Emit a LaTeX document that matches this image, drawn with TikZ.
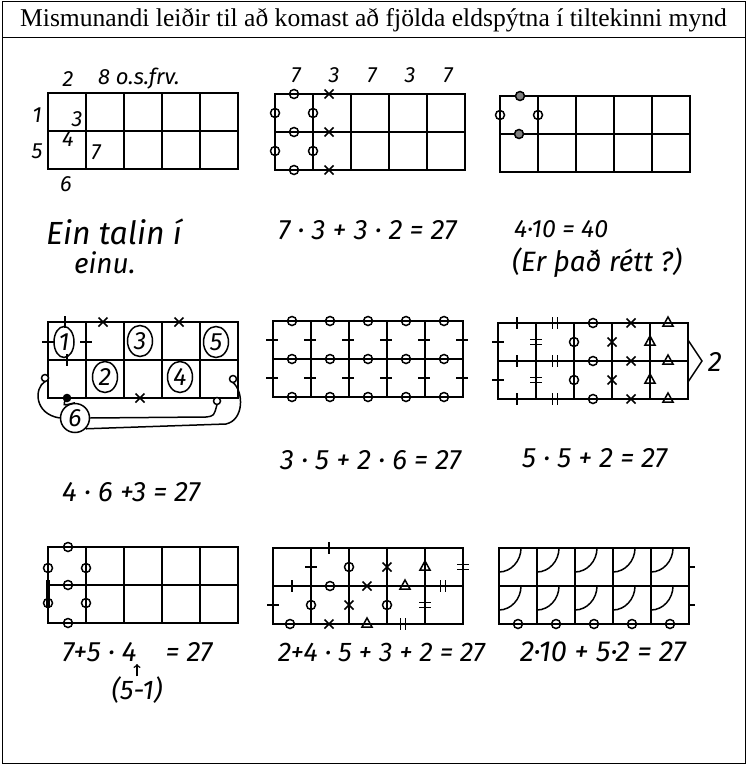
\documentclass[tikz,border=0pt]{standalone}
\usepackage{fontspec}
\setmainfont{Liberation Serif}
\newfontfamily\hand{Fira Sans}
\usetikzlibrary{shapes.geometric}
\tikzset{
  gridln/.style={line width=1.8pt},
  mk/.style={line width=1.5pt},
  hw/.style={font=\hand\itshape\fontsize{28}{30}\selectfont,inner sep=0pt,anchor=west},
  hwsmall/.style={font=\hand\itshape\fontsize{22}{23}\selectfont,inner sep=0pt},
  cnum/.style={ellipse,draw,line width=1.5pt,inner sep=0pt,minimum width=25,minimum height=31,
    font=\hand\itshape\fontsize{25}{25}\selectfont},
  grd/.pic={\draw[gridln] (0,0) rectangle (190,76) (0,38)--(190,38);
    \foreach \i in {38,76,114,152} \draw[gridln] (\i,0)--(\i,76);},
  hd/.pic={\draw[mk] (0,0) circle (4.5pt);},
  hdf/.pic={\draw[mk,fill=gray] (0,0) circle (4.5pt);},
  tkh/.pic={\draw[mk] (0,-6)--(0,6);},
  tkv/.pic={\draw[mk] (-6,0)--(6,0);},
  dtkh/.pic={\draw[mk] (-2.5,-6)--(-2.5,6) (2.5,-6)--(2.5,6);},
  dtkv/.pic={\draw[mk] (-6,-2.5)--(6,-2.5) (-6,2.5)--(6,2.5);},
  xx/.pic={\draw[mk] (-4.5,-4.5)--(4.5,4.5) (-4.5,4.5)--(4.5,-4.5);},
  tri/.pic={\draw[mk] (-5,3)--(0,-6)--(5,3)--cycle;},
}
\begin{document}
\begin{tikzpicture}[x=1pt,y=-1pt]
\useasboundingbox (0,0) rectangle (747,765);
\draw[line width=1pt] (2,1.5) rectangle (745,763.5);
\draw[line width=1pt] (2,38) -- (745,38);
\node[font=\fontsize{25.6}{28}\selectfont,inner sep=0pt] (title) at (373.5,20) {Mismunandi leiðir til að komast að fjölda eldspýtna í tiltekinni mynd};

% efri röð
\begin{scope}[shift={(48,93)}]
\pic {grd};
\end{scope}
\node[hwsmall] (l2) at (68,79) {2};
\node[hwsmall,anchor=west] (l8) at (98,79) {8 o.s.frv.};
\node[hwsmall] (l1) at (37,115) {1};
\node[hwsmall] (l3) at (77,119) {3};
\node[hwsmall] (l4) at (68,139) {4};
\node[hwsmall] (l5) at (37,151) {5};
\node[hwsmall] (l7) at (96,152) {7};
\node[hwsmall] (l6) at (66,184) {6};

\begin{scope}[shift={(275,94)}]
\pic {grd};
\foreach \y in {0,38,76} {\pic at (19,\y) {hd}; \pic at (54,\y) {xx};}
\foreach \x in {0,38} {\pic at (\x,19) {hd}; \pic at (\x,57) {hd};}
\foreach \t [count=\i from 0] in {7,3,7,3,7}
  \node[hwsmall] (t\i) at (21+38*\i,-19) {\t};
\end{scope}

\begin{scope}[shift={(500,96)}]
\pic {grd};
\pic at (20,0) {hdf}; \pic at (19,38) {hdf};
\pic at (0,19) {hd}; \pic at (38,19) {hd};
\end{scope}

\node[hw,font=\hand\itshape\fontsize{32}{34}\selectfont] (e1a) at (46,232) {Ein talin í};
\node[hw] (e1b) at (74,263) {einu.};
\node[hw] (e2) at (278,230) {7 · 3 + 3 · 2 = 27};
\node[hw,font=\hand\itshape\fontsize{25}{26}\selectfont] (e3a) at (514,229) {4·10 = 40};
\node[hw] (e3b) at (512,263) {(Er það rétt ?)};

% miðröð
\begin{scope}[shift={(48,322)}]
\pic {grd};
\pic at (17,0) {tkh}; \pic at (0,20) {tkv}; \pic at (38,20) {tkv}; \pic at (19,38) {tkh};
\pic at (55,0) {xx}; \pic at (131,0) {xx}; \pic at (92,76) {xx};
\node[cnum,minimum width=20] (c1) at (16,20) {1};
\node[cnum] (c3) at (92,19) {3};
\node[cnum] (c5) at (168,20) {5};
\node[cnum] (c2) at (57,55) {2};
\node[cnum] (c4) at (132,55) {4};
\node[cnum,minimum width=29,minimum height=29] (c6) at (27,96) {6};
\draw[mk,fill=black] (19,76) circle (3.5pt);
\coordinate (pa) at (19,76);
\coordinate (pb) at (-3,56);
\coordinate (pc) at (169,79);
\coordinate (pd) at (185,57);
\draw[mk,fill=white] (pb) circle (3.5pt) (pc) circle (3.5pt) (pd) circle (3.5pt);
\draw[mk] (c6.west) .. controls (-14,92) and (-14,66) .. ([yshift=-3.5pt]pb);
\draw[mk] (pa) .. controls (14,84) .. (c6.north);
\draw[mk] (c6.east) -- (158,95) .. controls (166,94) .. ([yshift=-3.5pt]pc);
\draw[mk] (c6.south east) -- (178,102) .. controls (196,98) and (196,70) .. ([yshift=-3.5pt]pd);
\end{scope}

\begin{scope}[shift={(273,321)}]
\pic {grd};
\foreach \i in {0,...,4} \foreach \y in {0,38,76} \pic at (19+38*\i,\y) {hd};
\foreach \j in {0,...,5} {\pic at (38*\j-1,19) {tkv}; \pic at (38*\j-1,57) {tkv};}
\end{scope}

\begin{scope}[shift={(498,323)}]
\pic {grd};
\foreach \y in {0,38,76} {\pic at (19,\y) {tkh}; \pic at (57,\y) {dtkh};
  \pic at (95,\y) {hd}; \pic at (133,\y) {xx}; \pic at (170,\y) {tri};}
\foreach \y in {19,57} {\pic at (0,\y) {tkv}; \pic at (38,\y) {dtkv};
  \pic at (76,\y) {hd}; \pic at (114,\y) {xx}; \pic at (152,\y) {tri};}
\coordinate (br1) at (190,17);
\coordinate (br2) at (190,59);
\node[hwsmall,font=\hand\itshape\fontsize{28}{28}\selectfont] (tv) at (217,39) {2};
\draw[mk] (br1) -- (204,38) -- (br2);
\end{scope}

\node[hw] (e4) at (280,460) {3 · 5 + 2 · 6 = 27};
\node[hw] (e5) at (522,458) {5 · 5 + 2 = 27};
\node[hw] (e6) at (62,492) {4 · 6 +3 = 27};

% neðsta röð
\begin{scope}[shift={(48,547)}]
\pic {grd};
\draw[line width=3.8pt] (0,33) -- (0,61);
\foreach \y in {0,38,76} \pic at (20,\y) {hd};
\foreach \x in {0,38} {\pic at (\x,21) {hd}; \pic at (\x,56) {hd};}
\end{scope}

\begin{scope}[shift={(273,548)}]
\pic {grd};
\pic at (56,0) {tkh};
\pic at (38,19) {tkv}; \pic at (76,19) {hd}; \pic at (114,19) {xx}; \pic at (152,19) {tri}; \pic at (190,19) {dtkv};
\pic at (19,38) {tkh}; \pic at (57,38) {hd}; \pic at (94,38) {xx}; \pic at (132,38) {tri}; \pic at (170,38) {dtkh};
\pic at (0,57) {tkv}; \pic at (38,57) {hd}; \pic at (76,57) {xx}; \pic at (114,57) {hd}; \pic at (152,57) {dtkv};
\pic at (17,76) {hd}; \pic at (56,76) {xx}; \pic at (94,76) {tri}; \pic at (130,76) {dtkh};
\end{scope}

\begin{scope}[shift={(499,548)}]
\pic {grd};
\foreach \i in {0,...,4} {
  \foreach \y in {0,38}
    \draw[mk] (38*\i+22,\y) .. controls (38*\i+22,\y+13) and (38*\i+12,\y+24) .. (38*\i,\y+24);
  \pic at (19+38*\i,76) {hd};}
\draw[mk] (190,19) -- (196,19) (190,57) -- (196,57);
\end{scope}

\node[hw] (e7) at (62,652) {7+5 · 4 \ \ \ = 27};
\node[hwsmall,font=\hand\itshape\fontsize{27}{27}\selectfont] (p51) at (137,690) {(5-1)};
\coordinate (a4) at (137,664);
\draw[mk,->] (p51.north) -- (a4);
\node[hw,font=\hand\itshape\fontsize{27}{29}\selectfont] (e8) at (278,652) {2+4 · 5 + 3 + 2 = 27};
\node[hw,font=\hand\itshape\fontsize{29}{31}\selectfont] (e9) at (520,652) {2·10 + 5·2 = 27};
\end{tikzpicture}
\end{document}
